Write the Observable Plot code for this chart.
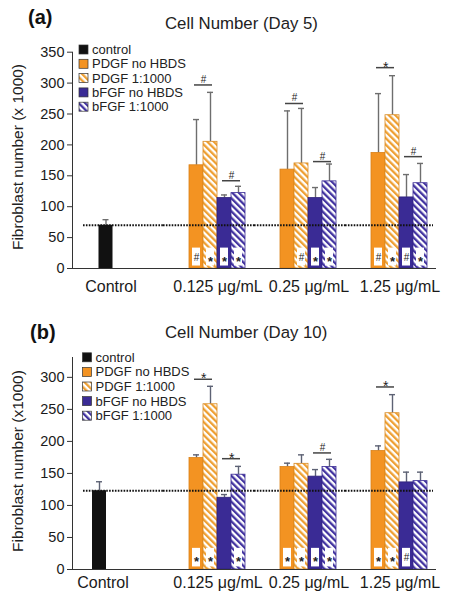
<!DOCTYPE html>
<html><head><meta charset="utf-8">
<script src="https://cdn.jsdelivr.net/npm/d3@7"></script>
<script src="https://cdn.jsdelivr.net/npm/@observablehq/plot@0.6"></script>
<style>
body{margin:0;background:#fff;font-family:"Liberation Sans",Arial,sans-serif;}
#wrap{position:relative;width:458px;height:600px;overflow:hidden;background:#fff;}
#wrap > svg{position:absolute;left:0;}
</style></head><body><div id="wrap"></div>
<script>
// ---- categories ----
const groups = ["Control", "0.125 μg/mL", "0.25 μg/mL", "1.25 μg/mL"];
const doses = groups.slice(1);
const series = ["PDGF no HBDS", "PDGF 1:1000", "bFGF no HBDS", "bFGF 1:1000"];
const legendLabels = ["control", "PDGF no HBDS", "PDGF 1:1000", "bFGF no HBDS", "bFGF 1:1000"];

// ---- Day 5 values (per dose: 0.125, 0.25, 1.25) ----
const d5Control = 70, d5ControlErr = 79;
const d5PDGFno = [167, 160, 187], d5PDGFnoErr = [241, 255, 283];
const d5PDGF1000 = [205, 170, 248], d5PDGF1000Err = [285, 259, 312];
const d5bFGFno = [114, 114, 115], d5bFGFnoErr = [119, 131, 152];
const d5bFGF1000 = [122, 141, 138], d5bFGF1000Err = [133, 169, 170];
const d5BaseMarks = [["#", "*", "*", "*"], ["", "#", "*", "*"], ["#", "*", "#", "*"]];
const d5BracketDose = ["0.125 μg/mL", "0.125 μg/mL", "0.25 μg/mL", "0.25 μg/mL", "1.25 μg/mL", "1.25 μg/mL"];
const d5BracketPair = [0, 1, 0, 1, 0, 1];
const d5BracketSym = ["#", "#", "#", "#", "*", "#"];
const d5BracketY = [297, 142, 267, 173, 325, 181];
const d5Ticks = [0, 50, 100, 150, 200, 250, 300, 350];

// ---- Day 10 values ----
const d10Control = 123, d10ControlErr = 137;
const d10PDGFno = [174, 160, 185], d10PDGFnoErr = [179, 166, 193];
const d10PDGF1000 = [258, 165, 244], d10PDGF1000Err = [286, 179, 273];
const d10bFGFno = [112, 145, 136], d10bFGFnoErr = [117, 156, 152];
const d10bFGF1000 = [148, 160, 138], d10bFGF1000Err = [161, 172, 152];
const d10BaseMarks = [["*", "*", "", "*"], ["*", "*", "*", "*"], ["*", "*", "#", ""]];
const d10BracketDose = ["0.125 μg/mL", "0.125 μg/mL", "0.25 μg/mL", "1.25 μg/mL"];
const d10BracketPair = [0, 1, 1, 0];
const d10BracketSym = ["*", "*", "#", "*"];
const d10BracketY = [297, 173, 182, 285];
const d10Ticks = [0, 50, 100, 150, 200, 250, 300];

// ---- styles ----
const ORANGE = "#F39322", BLUE = "#3A2B95";
function addPatterns(svgSel, prefix) {
  const defs = svgSel.insert("defs", ":first-child");
  [["ho", "#EE9F32"], ["hb", "#4233A0"]].forEach(([id, col]) => {
    const p = defs.append("pattern").attr("id", prefix + id)
      .attr("patternUnits", "userSpaceOnUse").attr("width", 4.6).attr("height", 4.6)
      .attr("patternTransform", "rotate(-45)");
    p.append("rect").attr("width", 4.6).attr("height", 4.6).attr("fill", "white");
    p.append("rect").attr("width", 2.3).attr("height", 4.6).attr("fill", col);
  });
}
function styleFor(prefix) {
  return {
    fill: {"control": "#111", "PDGF no HBDS": ORANGE, "PDGF 1:1000": `url(#${prefix}ho)`, "bFGF no HBDS": BLUE, "bFGF 1:1000": `url(#${prefix}hb)`},
    stroke: {"control": "#111", "PDGF no HBDS": "#D98018", "PDGF 1:1000": "#D98A22", "bFGF no HBDS": "#2E2279", "bFGF 1:1000": "#3A2B95"}
  };
}

function buildRows(ctrl, ctrlErr, means, errs) {
  const rows = [{group: "Control", series: "control", slot: 0, value: ctrl, err: ctrlErr}];
  doses.forEach((g, i) => series.forEach((s, j) => rows.push({group: g, series: s, slot: j, value: means[j][i], err: errs[j][i]})));
  return rows;
}
function buildBase(marks) {
  const out = [];
  doses.forEach((g, i) => marks[i].forEach((sym, j) => { if (sym) out.push({group: g, slot: j, sym}); }));
  return out;
}
function buildBrackets(dose, pair, sym, y) {
  return dose.map((g, i) => ({group: g, pair: pair[i], sym: sym[i], y: y[i]}));
}

function chart(cfg) {
  const st = styleFor(cfg.prefix);
  const errColor = cfg.errColor;
  const ctrlRows = cfg.rows.filter(d => d.series === "control");
  const doseRows = cfg.rows.filter(d => d.series !== "control");
  const ctrlVal = ctrlRows[0].value;
  const frameH = cfg.height - cfg.mt - cfg.mb;
  const facetRows = groups.map(g => ({group: g, y: ctrlVal}));
  const lineStyle = {fx: "group", y: "y", stroke: "#111", strokeWidth: 2, strokeDasharray: "1.6,1.3"};
  const labelStyle = {fx: "group", text: "group", frameAnchor: "bottom", lineAnchor: "top", dy: cfg.pad, fontSize: 16, fill: "#1a1a1a"};
  const tickStyle = {fx: "group", insetTop: frameH, insetBottom: -5, stroke: "#333"};
  const errRule = {fx: "group", x: "slot", y1: "value", y2: "err", stroke: errColor, strokeWidth: 1.4};
  const errCap = {fx: "group", x: "slot", y: "err", insetLeft: 4, insetRight: 4, stroke: errColor, strokeWidth: 1.4};
  const barMarks = series.map(s => Plot.barY(doseRows.filter(d => d.series === s), {
    fx: "group", x: "slot", y: "value", fill: st.fill[s], stroke: st.stroke[s], strokeWidth: 0.8
  }));
  const svg = Plot.plot({
    width: 458, height: cfg.height,
    marginLeft: 72, marginRight: 22, marginTop: cfg.mt, marginBottom: cfg.mb,
    style: {fontFamily: "'Liberation Sans', Arial, sans-serif", background: "transparent", color: "#222"},
    fx: {domain: groups, padding: 0, label: null, axis: null},
    x: {type: "band", domain: [0, 1, 2, 3], padding: 0, insetLeft: 25, insetRight: 9, axis: null},
    y: {domain: [0, cfg.ymax], label: null},
    marks: [
      Plot.frame({anchor: "left", facet: "super", stroke: "#333"}),
      Plot.axisY(cfg.ticks, {tickSize: 5, tickPadding: 3, fontSize: 14.5, stroke: "#333", fill: "#1a1a1a", label: null}),
      Plot.ruleX(doseRows, errRule),
      Plot.tickY(doseRows, errCap),
      Plot.ruleX(ctrlRows, {...errRule, dx: cfg.ctrlShift}),
      Plot.tickY(ctrlRows, {...errCap, dx: cfg.ctrlShift}),
      Plot.barY(ctrlRows, {fx: "group", x: "slot", y: "value", fill: st.fill.control, dx: cfg.ctrlShift}),
      ...barMarks,
      Plot.ruleY([0], {stroke: "#333"}),
      // category boundary ticks below the axis
      Plot.ruleX(facetRows, {...tickStyle, dx: -45.5}),
      Plot.ruleX(facetRows.slice(3), {...tickStyle, dx: 45.5}),
      // category labels
      Plot.text(facetRows.slice(1), {...labelStyle, dx: 9}),
      Plot.text(facetRows.slice(0, 1), {...labelStyle, dx: cfg.ctrlDx}),
      // control reference line
      Plot.ruleY(facetRows.slice(0, 1), {...lineStyle, insetLeft: 11}),
      Plot.ruleY(facetRows.slice(1, 3), lineStyle),
      Plot.ruleY(facetRows.slice(3), {...lineStyle, insetRight: 3}),
      // significance boxes at bar bases
      Plot.barY(cfg.base, {fx: "group", x: "slot", y1: 4, y2: 33, fill: "white", insetLeft: 3, insetRight: 3}),
      Plot.text(cfg.base.filter(d => d.sym === "*"), {fx: "group", x: "slot", y: 18, text: "sym", fontSize: 13, fontWeight: "bold", dy: 4, fill: "#222"}),
      Plot.text(cfg.base.filter(d => d.sym === "#"), {fx: "group", x: "slot", y: 18, text: "sym", fontSize: 10, fill: "#222"}),
      // brackets above pairs
      Plot.ruleY(cfg.brackets, {fx: "group", x1: d => d.pair * 2, x2: d => d.pair * 2 + 1, y: "y", insetLeft: 5, insetRight: 5, stroke: "#444", strokeWidth: 1.5}),
      Plot.text(cfg.brackets.filter(d => d.sym === "*"), {fx: "group", x: d => d.pair * 2, y: "y", text: "sym", dx: 7.1, dy: 4, lineAnchor: "bottom", fontSize: 14, fill: "#222"}),
      Plot.text(cfg.brackets.filter(d => d.sym === "#"), {fx: "group", x: d => d.pair * 2, y: "y", text: "sym", dx: 7.1, dy: -2, lineAnchor: "bottom", fontSize: 10, fill: "#222"})
    ]
  });
  addPatterns(d3.select(svg), cfg.prefix);
  svg.style.top = cfg.top + "px";
  return svg;
}

const wrap = document.getElementById("wrap");
const rows5 = buildRows(d5Control, d5ControlErr, [d5PDGFno, d5PDGF1000, d5bFGFno, d5bFGF1000], [d5PDGFnoErr, d5PDGF1000Err, d5bFGFnoErr, d5bFGF1000Err]);
const rows10 = buildRows(d10Control, d10ControlErr, [d10PDGFno, d10PDGF1000, d10bFGFno, d10bFGF1000], [d10PDGFnoErr, d10PDGF1000Err, d10bFGFnoErr, d10bFGF1000Err]);

wrap.appendChild(chart({prefix: "a-", top: 40, height: 262, mt: 11.7, mb: 34, ymax: 350, ticks: d5Ticks, pad: 12, ctrlDx: -7, ctrlShift: 0.5,
  rows: rows5, base: buildBase(d5BaseMarks), brackets: buildBrackets(d5BracketDose, d5BracketPair, d5BracketSym, d5BracketY), errColor: "#6e6e6e"}));
wrap.appendChild(chart({prefix: "b-", top: 350, height: 250, mt: 7, mb: 31, ymax: 331, ticks: d10Ticks, pad: 7.5, ctrlDx: -15, ctrlShift: -6,
  rows: rows10, base: buildBase(d10BaseMarks), brackets: buildBrackets(d10BracketDose, d10BracketPair, d10BracketSym, d10BracketY), errColor: "#5d6274"}));

// ---- overlay: titles, panel letters, y labels, legends ----
const ov = d3.create("svg").attr("width", 458).attr("height", 600).style("top", "0px")
  .style("font-family", "'Liberation Sans', Arial, sans-serif").style("pointer-events", "none");
addPatterns(ov, "L-");
const T = (x, y, s, size, extra = {}) => {
  const t = ov.append("text").attr("x", x).attr("y", y).attr("font-size", size).attr("fill", extra.fill || "#111").text(s);
  if (extra.weight) t.attr("font-weight", extra.weight);
  if (extra.transform) t.attr("transform", extra.transform).attr("x", 0).attr("y", 0).attr("text-anchor", "middle");
  return t;
};
T(28, 24, "(a)", 20, {weight: "bold"});
T(165, 28.5, "Cell Number (Day 5)", 16.8, {fill: "#222"});
T(30, 339, "(b)", 20, {weight: "bold"});
T(165, 338, "Cell Number (Day 10)", 16.8, {fill: "#222"});
T(0, 0, "Fibroblast number (x 1000)", 15.5, {fill: "#222", transform: "translate(22.5,157) rotate(-90)"});
T(0, 0, "Fibroblast number (x1000)", 15.5, {fill: "#222", transform: "translate(22.5,461) rotate(-90)"});

function legend(x, y0, step) {
  const fills = ["#111", ORANGE, "url(#L-ho)", BLUE, "url(#L-hb)"];
  legendLabels.forEach((lab, i) => {
    const cy = y0 + i * step;
    ov.append("rect").attr("x", x).attr("y", cy - 4.5).attr("width", 9).attr("height", 9)
      .attr("fill", fills[i]).attr("stroke", "#333").attr("stroke-width", 0.7);
    ov.append("text").attr("x", x + 13).attr("y", cy).attr("dy", "0.35em").attr("font-size", 13).attr("fill", "#222").text(lab);
  });
}
legend(79, 49.5, 14.3);
legend(82.5, 357.3, 14.6);
wrap.appendChild(ov.node());
</script></body></html>
